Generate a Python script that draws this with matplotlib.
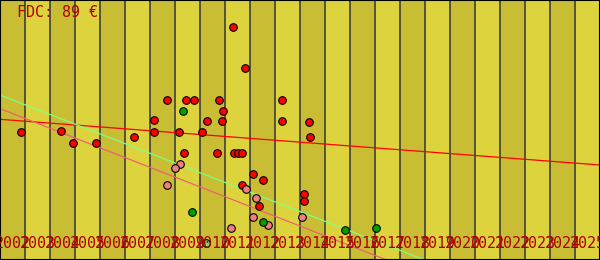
import numpy as np
import matplotlib
matplotlib.use("Agg")
import matplotlib.pyplot as plt

# years shown along the bottom (one band per year)
years = list(range(2002, 2026))

# red points: (year, value)
red_x = [2002.84, 2004.44, 2004.92, 2005.84, 2007.36, 2008.16, 2008.16, 2008.68, 2009.16,
         2009.44, 2009.76, 2009.36, 2010.08, 2010.28, 2010.76, 2010.92, 2010.88, 2010.68,
         2011.32, 2011.80, 2011.36, 2011.52, 2011.68, 2013.28, 2013.28, 2014.36, 2014.40,
         2012.12, 2012.52, 2011.68, 2012.36, 2014.16, 2014.16]
red_y = [128, 129, 117, 117, 123, 140, 128, 160, 128,
         160, 160, 107, 128, 139, 160, 149, 139, 107,
         233, 192, 107, 107, 107, 160, 139, 138, 123,
         86, 80, 75, 54, 66, 59]

# pink points
pink_x = [2009.20, 2009.00, 2008.68, 2011.84, 2012.24, 2012.12, 2012.72, 2014.08, 2011.24]
pink_y = [96, 92, 75, 71, 62, 43, 35, 43, 32]

# green points
green_x = [2009.32, 2009.68, 2012.52, 2015.80, 2017.04]
green_y = [149, 48, 38, 30, 32]

# light green point
lgreen_x = [2010.24]
lgreen_y = [17]

# red trend line, values read at 2002 and 2026
red_trend = [140.7, 95.0]

fig = plt.figure(figsize=(6, 2.6), dpi=100)
ax = fig.add_axes([0, 0, 1, 1])
ax.set_xlim(2002, 2026)
ax.set_ylim(0, 260)

# alternating year bands and separators
for i, yr in enumerate(range(2002, 2026)):
    ax.axvspan(yr, yr + 1, color='#c9bd33' if i % 2 == 0 else '#ddd43d', lw=0, zorder=0)
    if yr > 2002:
        ax.axvline(yr, color='#33333f', lw=1.1, zorder=1)

# trend lines
xs = np.array([2002, 2026])
ax.plot(xs, red_trend, color='#ff0000', lw=0.9, zorder=2)
for gx, gy, col in [(pink_x, pink_y, '#f06070'), (green_x, green_y, '#80ff80')]:
    k, b = np.polyfit(gx, gy, 1)
    ax.plot(xs, k * xs + b, color=col, lw=0.9, zorder=2)

ms = 30
ax.scatter(red_x, red_y, s=ms, c='#ff0000', edgecolors='black', linewidths=0.8, zorder=3)
ax.scatter(pink_x, pink_y, s=ms, c='#f08080', edgecolors='black', linewidths=0.8, zorder=3)
ax.scatter(green_x, green_y, s=ms, c='#00a000', edgecolors='black', linewidths=0.8, zorder=3)
ax.scatter(lgreen_x, lgreen_y, s=ms, c='#66ee66', edgecolors='black', linewidths=0.8, zorder=3)

# year labels inside the plot
for yr in years:
    ax.text(yr + 0.5, 0.045, str(yr), transform=ax.get_xaxis_transform(),
            ha='center', va='baseline', fontsize=10.8, family='DejaVu Sans Mono',
            color='#b00000', zorder=4)

ax.text(0.028, 0.935, 'FDC: 89 €', transform=ax.transAxes, ha='left', va='baseline',
        fontsize=10.8, family='DejaVu Sans Mono', color='#b00000', zorder=4)

ax.set_xticks([])
ax.set_yticks([])
for sp in ax.spines.values():
    sp.set_color('black')
    sp.set_linewidth(1.5)

fig.savefig('out.png', dpi=100)
